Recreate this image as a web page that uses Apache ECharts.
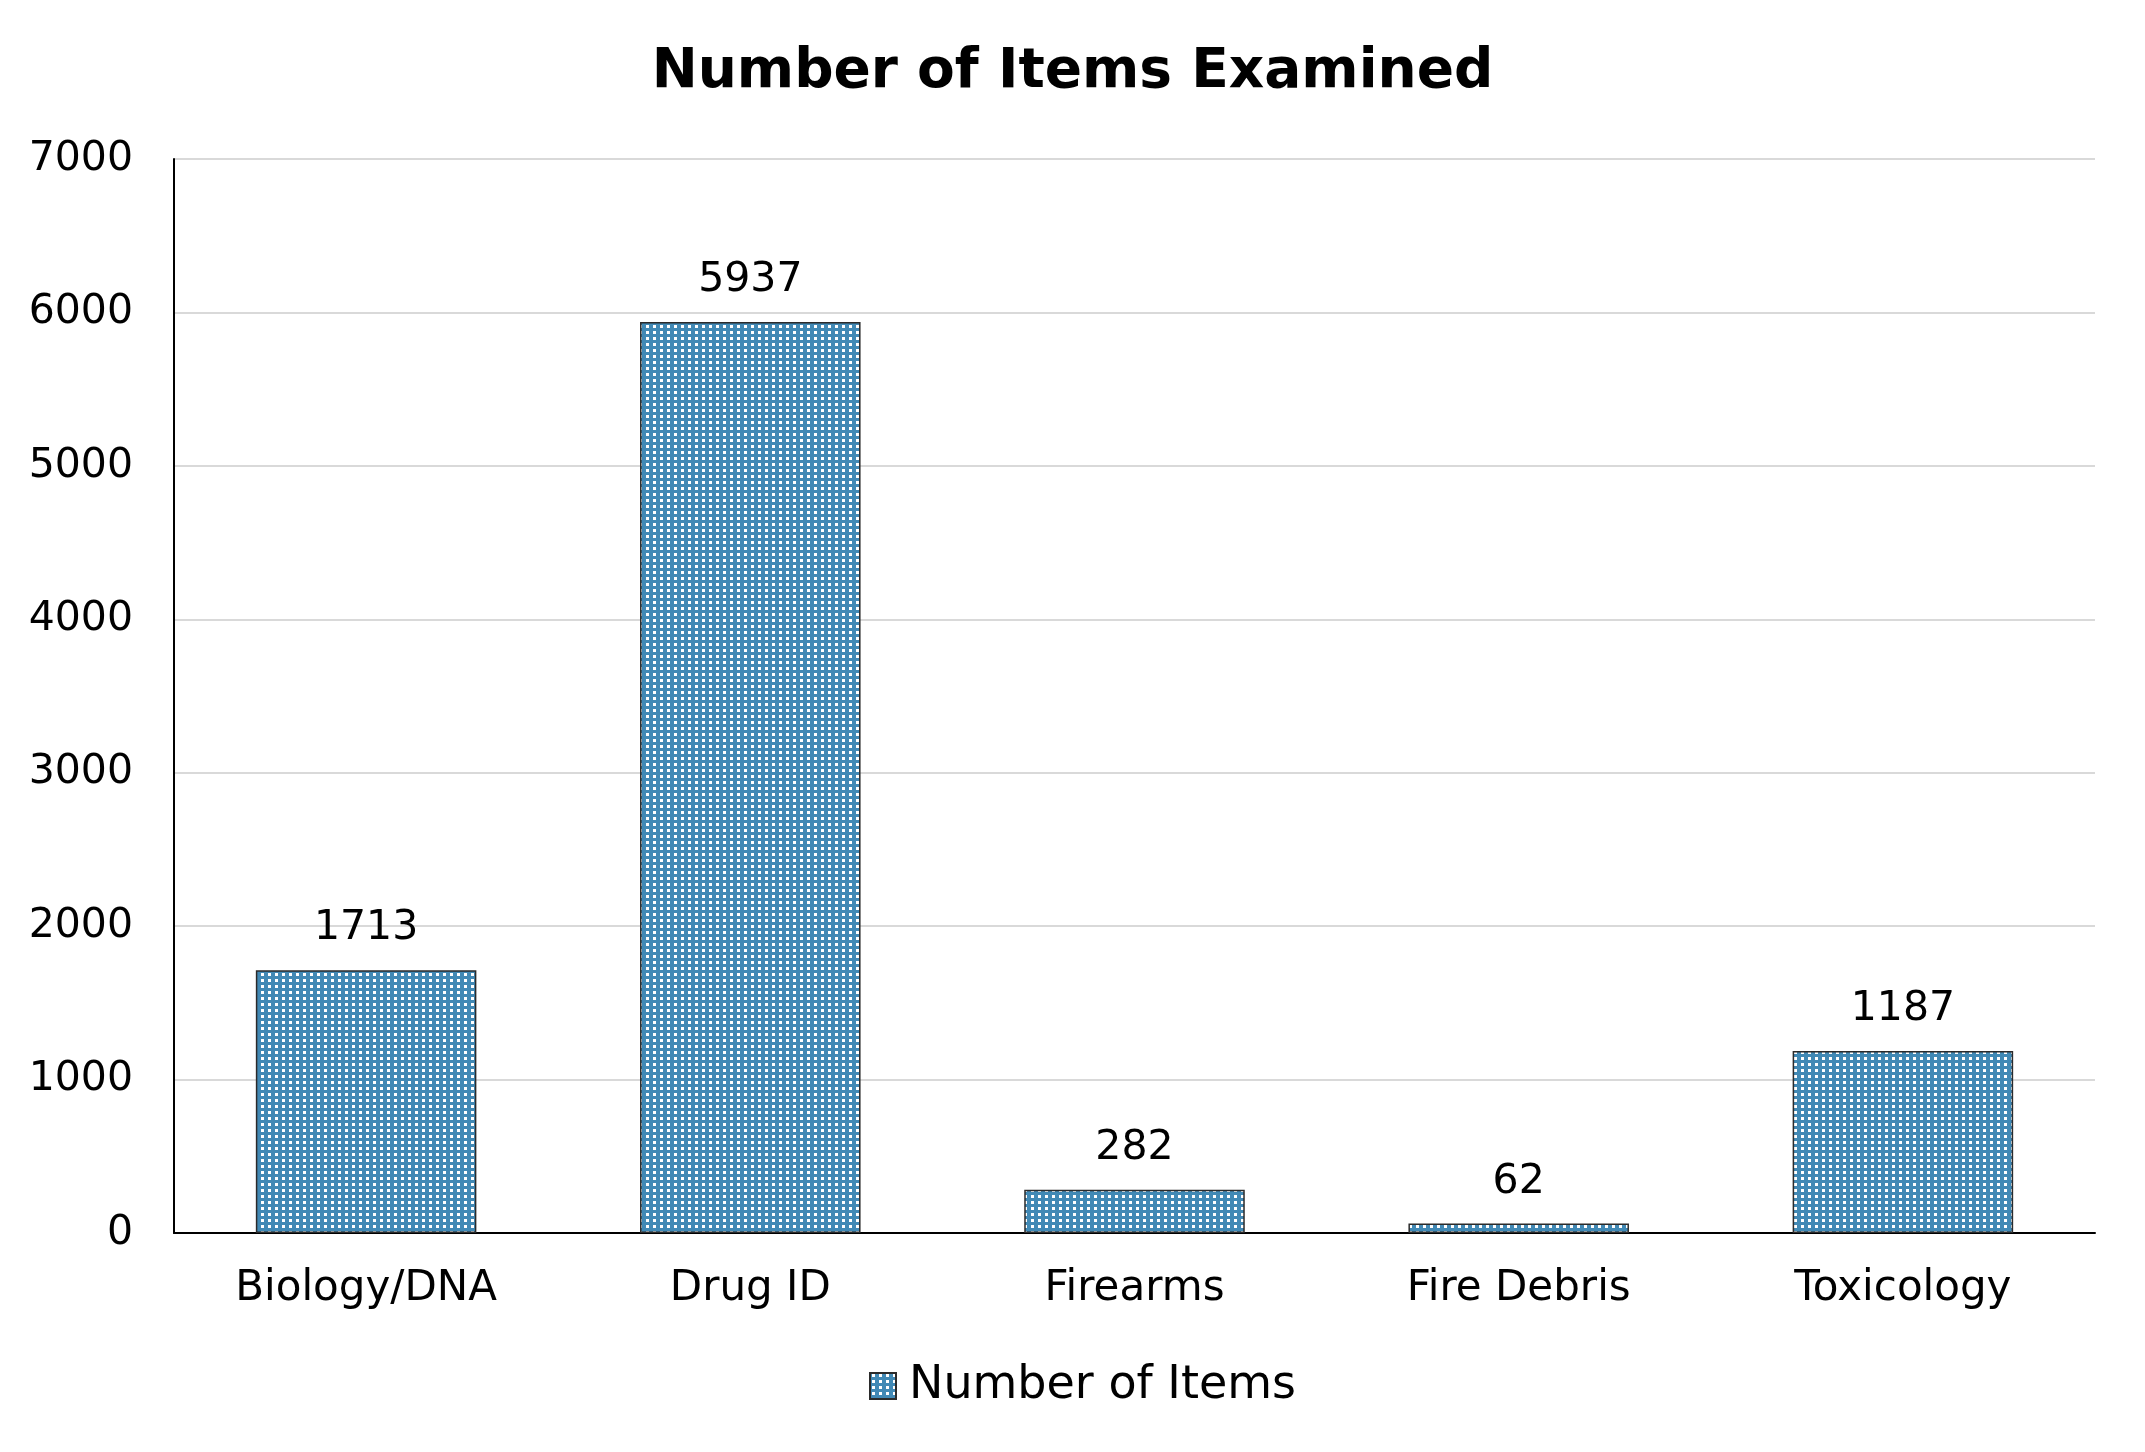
<!DOCTYPE html>
<html>
<head>
<meta charset="utf-8">
<script src="https://cdn.jsdelivr.net/npm/echarts@6/dist/echarts.min.js"></script>
<style>
  html, body { margin: 0; padding: 0; background: #ffffff; }
  #chart { width: 2145px; height: 1452px; }
</style>
</head>
<body>
<div id="chart"></div>
<script>
const chartTitle = 'Number of Items Examined';
const seriesName = 'Number of Items';
const categories = ['Biology/DNA', 'Drug ID', 'Firearms', 'Fire Debris', 'Toxicology'];
const itemCounts = [1713, 5937, 282, 62, 1187];
const yTicks = [0, 1000, 2000, 3000, 4000, 5000, 6000, 7000];

// dotted pattern fill (white squares on blue)
function makePattern() {
  const c = document.createElement('canvas');
  c.width = 7; c.height = 6;
  const ctx = c.getContext('2d');
  ctx.fillStyle = '#4189b5';
  ctx.fillRect(0, 0, 7, 6);
  ctx.fillStyle = '#ffffff';
  ctx.fillRect(2, 1, 3, 3);
  return c;
}
const pattern = { image: makePattern(), repeat: 'repeat' };

const FONT = 'DejaVu Sans';
const chart = echarts.init(document.getElementById('chart'), null, { renderer: 'canvas' });
chart.setOption({
  backgroundColor: '#ffffff',
  animation: false,
  title: {
    text: chartTitle,
    left: 'center',
    top: 40,
    textStyle: { fontFamily: FONT, fontWeight: 'bold', fontSize: 55, color: '#000000' }
  },
  legend: {
    data: [seriesName],
    left: 864,
    top: 1358,
    itemWidth: 26,
    itemHeight: 26,
    icon: 'rect',
    textStyle: { fontFamily: FONT, fontSize: 46, color: '#000000', padding: [0, 0, 0, 8] }
  },
  grid: { left: 174, right: 50, top: 159, bottom: 219, containLabel: false },
  xAxis: {
    type: 'category',
    data: categories,
    axisLine: { show: true, lineStyle: { color: '#000000', width: 2 } },
    axisTick: { show: false },
    axisLabel: { fontFamily: FONT, fontSize: 42, color: '#000000', margin: 35 }
  },
  yAxis: {
    type: 'value',
    min: yTicks[0],
    max: yTicks[yTicks.length - 1],
    interval: yTicks[1] - yTicks[0],
    axisLine: { show: true, lineStyle: { color: '#000000', width: 2 } },
    axisTick: { show: false },
    splitLine: { show: true, lineStyle: { color: '#d9d9d9', width: 2 } },
    axisLabel: {
      fontFamily: FONT, fontSize: 41, color: '#000000', margin: 41,
      formatter: function (v) { return String(v); }
    }
  },
  series: [{
    name: seriesName,
    type: 'bar',
    data: itemCounts,
    barWidth: '57.4%',
    itemStyle: { color: pattern, borderColor: '#2b2b2b', borderWidth: 1.5 },
    label: {
      show: true,
      position: 'top',
      distance: 21,
      fontFamily: FONT,
      fontSize: 41,
      color: '#000000'
    }
  }]
});
</script>
</body>
</html>
